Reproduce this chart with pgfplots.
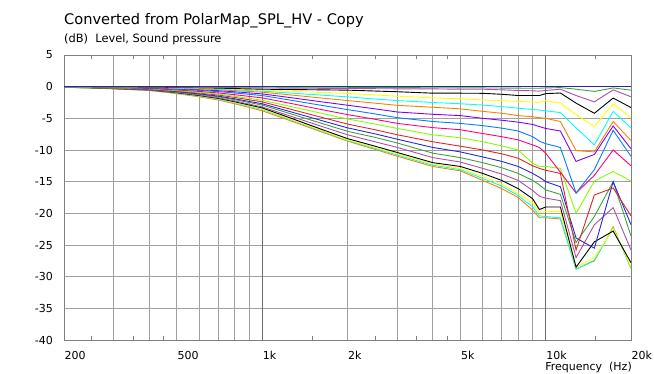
\documentclass[border=0pt]{standalone}
\usepackage{pgfplots}
\pgfplotsset{compat=1.18}
\usepackage{pgfplotstable}
\usepackage{fontspec}
\setmainfont{DejaVu Sans}

\definecolor{cnavy}{RGB}{40,40,150}
\definecolor{cgreen}{RGB}{64,160,64}
\definecolor{cpurple}{RGB}{170,80,170}
\definecolor{cyel}{RGB}{255,255,0}
\definecolor{ccyan}{RGB}{0,255,255}
\definecolor{corange}{RGB}{255,128,0}
\definecolor{cviolet}{RGB}{128,0,255}
\definecolor{cazure}{RGB}{0,128,255}
\definecolor{cpink}{RGB}{255,0,128}
\definecolor{cchart}{RGB}{128,255,0}
\definecolor{cred}{RGB}{220,40,40}
\definecolor{cblue}{RGB}{40,40,220}
\definecolor{gridgray}{RGB}{160,160,160}
\definecolor{darkgrid}{RGB}{110,110,110}
\definecolor{framegray}{RGB}{128,128,128}

\pgfplotstableread{
f c0 c1 c2 c3 c4 c5 c6 c7 c8 c9 c10 c11 c12 c13 c14 c15 c16 c17 c18
200 0 0 -0.01 -0.01 -0.01 -0.02 -0.02 -0.03 -0.04 -0.05 -0.06 -0.06 -0.07 -0.08 -0.08 -0.09 -0.09 -0.1 -0.1
250 0 0 -0.01 -0.02 -0.03 -0.04 -0.05 -0.06 -0.07 -0.09 -0.11 -0.13 -0.14 -0.15 -0.17 -0.18 -0.18 -0.19 -0.2
300 0 -0.01 -0.02 -0.04 -0.05 -0.07 -0.08 -0.11 -0.13 -0.16 -0.2 -0.22 -0.25 -0.27 -0.29 -0.31 -0.32 -0.33 -0.35
400 0 -0.01 -0.04 -0.07 -0.09 -0.11 -0.14 -0.18 -0.22 -0.28 -0.34 -0.38 -0.43 -0.46 -0.5 -0.53 -0.55 -0.57 -0.6
500 0 -0.02 -0.07 -0.12 -0.16 -0.21 -0.25 -0.33 -0.41 -0.52 -0.62 -0.69 -0.78 -0.84 -0.92 -0.97 -1.01 -1.05 -1.1
600 0 -0.03 -0.1 -0.18 -0.23 -0.3 -0.37 -0.48 -0.59 -0.75 -0.9 -1.01 -1.14 -1.22 -1.34 -1.41 -1.47 -1.52 -1.6
700 0 -0.04 -0.13 -0.23 -0.3 -0.4 -0.48 -0.63 -0.78 -0.99 -1.18 -1.32 -1.49 -1.6 -1.76 -1.85 -1.93 -2.0 -2.1
800 0 -0.05 -0.16 -0.3 -0.39 -0.51 -0.62 -0.81 -1.0 -1.27 -1.51 -1.7 -1.92 -2.05 -2.27 -2.38 -2.48 -2.57 -2.7
1000 0 -0.05 -0.2 -0.4 -0.55 -0.71 -0.87 -1.14 -1.4 -1.77 -2.14 -2.4 -2.7 -2.9 -3.2 -3.35 -3.5 -3.6 -3.8
1250 0 -0.07 -0.23 -0.45 -0.72 -1.0 -1.29 -1.71 -2.11 -2.61 -3.09 -3.52 -3.92 -4.23 -4.61 -4.9 -5.07 -5.17 -5.34
1600 0 -0.08 -0.26 -0.5 -0.91 -1.32 -1.77 -2.36 -2.91 -3.57 -4.15 -4.78 -5.28 -5.72 -6.19 -6.65 -6.83 -6.93 -7.06
2000 0 -0.1 -0.29 -0.55 -1.08 -1.61 -2.19 -2.93 -3.62 -4.41 -5.1 -5.9 -6.5 -7.05 -7.6 -8.2 -8.4 -8.5 -8.6
2500 0 -0.13 -0.32 -0.69 -1.3 -1.95 -2.6 -3.5 -4.3 -5.15 -5.9 -6.8 -7.45 -8.0 -8.7 -9.4 -9.6 -9.75 -9.9
3000 0 -0.15 -0.34 -0.8 -1.5 -2.2 -2.95 -4.0 -4.9 -5.8 -6.6 -7.6 -8.3 -8.9 -9.6 -10.4 -10.6 -10.8 -11.0
4000 0 -0.17 -0.35 -1.03 -1.77 -2.5 -3.25 -4.36 -5.5 -6.47 -7.6 -8.7 -9.6 -10.5 -11.2 -12.0 -12.2 -12.4 -12.6
5000 0 -0.18 -0.4 -1.03 -1.9 -2.7 -3.5 -4.57 -5.8 -6.8 -8.06 -9.4 -10.3 -11.2 -11.9 -12.6 -12.9 -13.1 -13.3
6000 0 -0.2 -0.4 -1.05 -2.1 -2.9 -3.9 -5.0 -6.15 -7.4 -8.7 -10.0 -11.1 -12.0 -12.9 -13.7 -14.2 -14.5 -14.8
7000 0 -0.22 -0.5 -1.2 -2.2 -3.15 -4.2 -5.3 -6.55 -7.9 -9.35 -10.6 -11.8 -12.8 -13.8 -14.8 -15.4 -15.7 -16.1
8000 0 -0.24 -0.6 -1.4 -2.35 -3.4 -4.57 -5.6 -7.0 -8.4 -10.0 -11.3 -12.6 -13.7 -14.8 -16.1 -16.9 -17.2 -17.5
9000 0 -0.25 -0.65 -1.4 -2.4 -3.6 -4.75 -5.97 -7.9 -9.2 -12.1 -12.5 -13.7 -14.8 -16.4 -17.7 -18.3 -19.0 -19.5
9500 0 -0.25 -0.7 -1.4 -2.5 -3.7 -4.9 -6.3 -8.6 -9.6 -12.6 -12.9 -14.3 -15.5 -17.3 -19.4 -19.9 -20.4 -20.7
10000 0 -0.2 -0.6 -1.1 -2.2 -3.8 -5.0 -6.6 -9.0 -10.5 -12.6 -13.2 -15.0 -16.3 -17.6 -19.0 -19.7 -20.5 -20.7
11270 0 -0.15 -0.4 -1.0 -2.6 -4.1 -5.5 -7.0 -9.6 -13.5 -12.9 -13.7 -15.8 -17.0 -18.0 -19.0 -19.7 -20.7 -20.9
12800 0 -0.4 -1.4 -2.6 -4.4 -6.5 -10.1 -11.8 -16.8 -16.8 -20.0 -25.8 -23.9 -24.6 -27.0 -28.5 -28.5 -28.8 -28.8
14850 0 -0.75 -2.4 -4.2 -6.3 -9.2 -10.3 -10.7 -13.1 -14.0 -14.9 -17.1 -25.5 -20.5 -21.8 -24.5 -27.0 -27.4 -27.5
17300 0 -0.2 -0.5 -1.8 -2.7 -3.9 -5.5 -6.2 -6.9 -10.0 -13.4 -16.0 -15.0 -15.0 -19.1 -22.8 -22.4 -22.3 -22.1
20000 0 -0.55 -1.6 -3.3 -4.9 -6.5 -8.5 -9.8 -11.0 -12.5 -14.9 -20.4 -21.8 -23.6 -25.8 -27.8 -28.4 -28.6 -28.7
}\data

\begin{document}
\begin{tikzpicture}[font=\fontsize{11bp}{13bp}\selectfont]
\useasboundingbox (0,0) rectangle (654bp,374bp);
\node[anchor=west, inner sep=0pt, font=\fontsize{14.6bp}{17bp}\selectfont] at (64bp,353bp) {Converted from PolarMap\_SPL\_HV - Copy};
\node[anchor=west, inner sep=0pt, font=\fontsize{11.4bp}{13bp}\selectfont] at (64bp,335bp) {(dB)\ \ Level, Sound pressure};
\node[anchor=south east, inner sep=0pt] at (632bp,1bp) {Frequency\ \ (Hz)};
\begin{axis}[
  at={(64bp,34bp)}, anchor=south west,
  scale only axis, width=567bp, height=285bp,
  xmode=log, xmin=200, xmax=20000, ymin=-40, ymax=5,
  axis line style={draw=framegray, line width=0.9bp},
  xtick={200,300,400,500,600,700,800,900,2000,3000,4000,5000,6000,7000,8000,9000,20000},
  xticklabels={200,,,500,,,,,2k,,,5k,,,,,20k},
  extra x ticks={1000,10000}, extra x tick labels={1k,10k},
  extra x tick style={grid style={draw=darkgrid, line width=0.9bp}},
  minor xtick={250,350,450,1500,2500,3500,4500,15000},
  minor tick length=4bp, major tick length=0pt,
  tick align=inside, tick style={draw=framegray, line width=0.8bp},
  ytick={-40,-35,-30,-25,-20,-15,-10,-5,0,5},
  yticklabels={-40,-35,-30,-25,-20,-15,-10,-5,0,5},
  xmajorgrids, ymajorgrids,
  grid style={draw=gridgray, line width=0.9bp},
  xticklabel style={anchor=north west, inner sep=0pt, yshift=-11bp, xshift=0.5bp},
  yticklabel style={anchor=east, inner sep=0pt, xshift=-11bp},
  clip=true,
]
\addplot[corange, line width=0.9bp] table[x=f,y=c18]{\data};
\addplot[ccyan, line width=0.9bp] table[x=f,y=c17]{\data};
\addplot[cyel, line width=0.9bp] table[x=f,y=c16]{\data};
\addplot[black, line width=0.9bp] table[x=f,y=c15]{\data};
\addplot[cpurple, line width=0.9bp] table[x=f,y=c14]{\data};
\addplot[cgreen, line width=0.9bp] table[x=f,y=c13]{\data};
\addplot[cblue, line width=0.9bp] table[x=f,y=c12]{\data};
\addplot[cred, line width=0.9bp] table[x=f,y=c11]{\data};
\addplot[cchart, line width=0.9bp] table[x=f,y=c10]{\data};
\addplot[cpink, line width=0.9bp] table[x=f,y=c9]{\data};
\addplot[cazure, line width=0.9bp] table[x=f,y=c8]{\data};
\addplot[cviolet, line width=0.9bp] table[x=f,y=c7]{\data};
\addplot[corange, line width=0.9bp] table[x=f,y=c6]{\data};
\addplot[ccyan, line width=0.9bp] table[x=f,y=c5]{\data};
\addplot[cyel, line width=0.9bp] table[x=f,y=c4]{\data};
\addplot[black, line width=0.9bp] table[x=f,y=c3]{\data};
\addplot[cpurple, line width=0.9bp] table[x=f,y=c2]{\data};
\addplot[cgreen, line width=0.9bp] table[x=f,y=c1]{\data};
\addplot[cnavy, line width=0.9bp] table[x=f,y=c0]{\data};
\end{axis}
\end{tikzpicture}
\end{document}
